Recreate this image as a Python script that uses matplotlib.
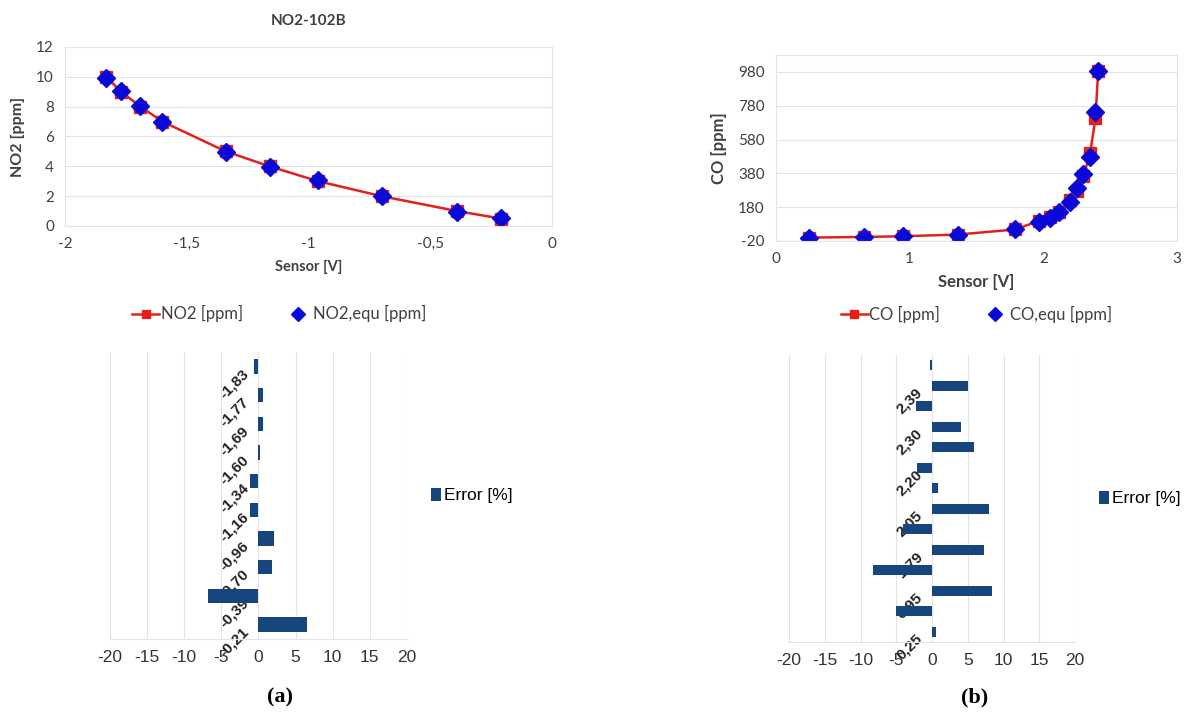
import numpy as np
import matplotlib
matplotlib.use("Agg")
import matplotlib.pyplot as plt

# NO2-102B calibration
no2_sensor = [-1.83, -1.77, -1.69, -1.60, -1.34, -1.16, -0.96, -0.70, -0.39, -0.21]
no2_ppm = [10, 9, 8, 7, 5, 4, 3, 2, 1, 0.5]
no2_equ = [9.94, 9.05, 8.05, 6.98, 4.94, 3.95, 3.06, 2.04, 0.93, 0.53]

# CO calibration
co_sensor = [0.25, 0.66, 0.95, 1.36, 1.79, 1.97, 2.05, 2.12, 2.20, 2.25, 2.30, 2.35, 2.39, 2.41]
co_ppm = [0, 4, 8, 18, 48, 100, 122, 150, 222, 277, 362, 500, 705, 985]
co_equ = [0, 3, 7, 16, 50, 95, 116, 152, 211, 292, 378, 474, 742, 983]

# error bars (bottom -> top)
no2_err_labels = ['-0,21', '-0,39', '-0,70', '-0,96', '-1,16', '-1,34', '-1,60', '-1,69', '-1,77', '-1,83']
no2_err = [6.5, -6.8, 1.8, 2.1, -1.2, -1.2, 0.25, 0.65, 0.55, -0.6]
co_err_labels = ['0,25', '', '0,95', '', '1,79', '', '2,05', '', '2,20', '', '2,30', '', '2,39', '']
co_err = [0.6, -5.0, 8.4, -8.3, 7.3, -4.0, 7.9, 0.8, -2.1, 5.8, 4.0, -2.3, 5.0, -0.3]

RED = '#e3201b'
BLUE = '#0a0ad8'
NAVY = '#17467f'
GRID = '#e3e3e3'
TXT = '#404040'

plt.rcParams['font.family'] = ['Lato', 'DejaVu Sans']
plt.rcParams['axes.unicode_minus'] = False

fig = plt.figure(figsize=(11.84, 7.17), dpi=100)


def style_top(ax):
    for s in ax.spines.values():
        s.set_color(GRID)
        s.set_linewidth(0.8)
    ax.grid(axis='y', color=GRID, linewidth=0.8)
    ax.set_axisbelow(True)
    ax.tick_params(length=0, labelsize=11, colors=TXT, pad=8)


# ---- (a) top ----
ax1 = fig.add_axes([0.0549, 0.6848, 0.4113, 0.2497])
ax1.plot(no2_sensor, no2_ppm, '-s', color=RED, lw=1.8, ms=9, label='NO2 [ppm]')
ax1.plot(no2_sensor, no2_equ, 'D', color=BLUE, ms=9.5, ls='none', label='NO2,equ [ppm]')
ax1.set_xlim(-2, 0)
ax1.set_ylim(0, 12)
ax1.set_xticks([-2, -1.5, -1, -0.5, 0])
ax1.set_xticklabels(['-2', '-1,5', '-1', '-0,5', '0'])
ax1.set_yticks(range(0, 13, 2))
style_top(ax1)
ax1.set_xlabel('Sensor [V]', fontsize=10.5, fontweight='bold', color=TXT, labelpad=6)
ax1.set_ylabel('NO2 [ppm]', fontsize=11.5, fontweight='bold', color=TXT, labelpad=8)
ax1.set_title('NO2-102B', fontsize=11, fontweight='bold', color=TXT, pad=16)
ax1.legend(loc='upper center', bbox_to_anchor=(0.44, -0.36), ncol=2, frameon=False,
           fontsize=12, handlelength=1.6, handletextpad=0.1, columnspacing=2.5,
           markerscale=0.7, labelcolor=TXT)

# ---- (b) top ----
ax2 = fig.add_axes([0.6554, 0.6639, 0.3387, 0.2594])
ax2.plot(co_sensor, co_ppm, '-s', color=RED, lw=1.8, ms=9, label='CO [ppm]')
ax2.plot(co_sensor, co_equ, 'D', color=BLUE, ms=9.5, ls='none', label='CO,equ [ppm]')
ax2.set_xlim(0, 3)
ax2.set_ylim(-20, 1080)
ax2.set_xticks([0, 1, 2, 3])
ax2.set_yticks(range(-20, 1000, 200))
style_top(ax2)
ax2.set_xlabel('Sensor [V]', fontsize=12, fontweight='bold', color=TXT, labelpad=6)
ax2.set_ylabel('CO [ppm]', fontsize=12, fontweight='bold', color=TXT, labelpad=8)
ax2.legend(loc='upper center', bbox_to_anchor=(0.5, -0.27), ncol=2, frameon=False,
           fontsize=12, handlelength=1.6, handletextpad=0.1, columnspacing=2.5,
           markerscale=0.7, labelcolor=TXT)


def style_bar(ax, labels):
    ax.set_xlim(-20, 20)
    ax.set_ylim(-0.5, len(labels) - 0.5)
    ax.set_xticks(range(-20, 21, 5))
    ax.grid(axis='x', color=GRID, linewidth=0.8)
    ax.set_axisbelow(True)
    ax.spines['top'].set_visible(False)
    ax.spines['right'].set_visible(False)
    ax.spines['bottom'].set_color(GRID)
    ax.spines['left'].set_position(('data', 0))
    ax.spines['left'].set_visible(False)
    ax.set_yticks(range(len(labels)))
    ax.set_yticklabels(labels, rotation=45, fontweight='bold', fontsize=11,
                       family=['Liberation Sans'], color='#222222',
                       rotation_mode='anchor', ha='right', va='top')
    ax.tick_params(axis='y', length=0, pad=12)
    ax.tick_params(axis='x', length=0, labelsize=12.5, colors='#333333', pad=8)
    for t in ax.get_xticklabels():
        t.set_family(['Liberation Sans'])
    ax.legend(loc='center left', bbox_to_anchor=(1.03, 0.5), frameon=False,
              handlelength=0.55, handleheight=0.8, handletextpad=0.2,
              prop={'family': 'Liberation Sans', 'size': 12.5})


# ---- (a) bottom ----
ax3 = fig.add_axes([0.0929, 0.1088, 0.2508, 0.4003])
ax3.barh(range(len(no2_err)), no2_err, height=0.5, color=NAVY, label='Error [%]')
style_bar(ax3, no2_err_labels)

# ---- (b) bottom ----
ax4 = fig.add_axes([0.6664, 0.1046, 0.2416, 0.4003])
ax4.barh(range(len(co_err)), co_err, height=0.5, color=NAVY, label='Error [%]')
style_bar(ax4, co_err_labels)

fig.text(280 / 1184, 1 - 697 / 717, '(a)', ha='center', va='center', fontsize=16,
         fontweight='bold', family=['Liberation Serif'])
fig.text(975 / 1184, 1 - 697 / 717, '(b)', ha='center', va='center', fontsize=16,
         fontweight='bold', family=['Liberation Serif'])

fig.savefig('out.png', dpi=100)
